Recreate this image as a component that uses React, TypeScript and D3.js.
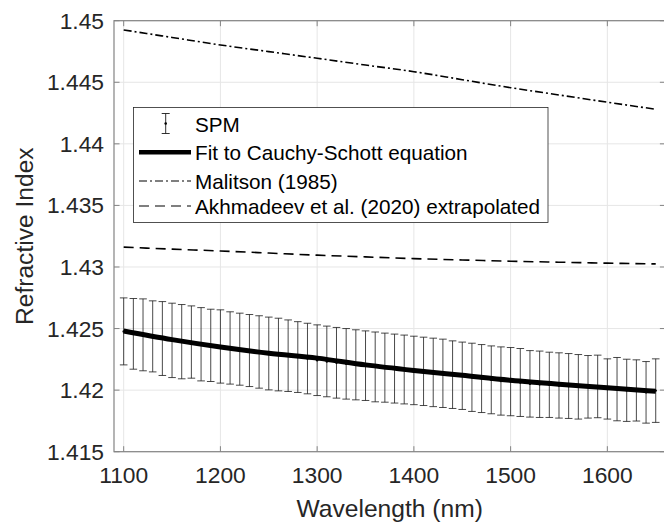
import React from "react";
import * as d3 from "d3";

// ---------- data ----------
const xTicks = [1100, 1200, 1300, 1400, 1500, 1600];
const yTicks = [1.415, 1.42, 1.425, 1.43, 1.435, 1.44, 1.445, 1.45];
const yTickLabels = ["1.415", "1.42", "1.425", "1.43", "1.435", "1.44", "1.445", "1.45"];

// SPM wavelengths (every 10 nm) with upper/lower error-bar ends
const spmWavelength = [
  1100, 1110, 1120, 1130, 1140, 1150, 1160, 1170, 1180, 1190,
  1200, 1210, 1220, 1230, 1240, 1250, 1260, 1270, 1280, 1290,
  1300, 1310, 1320, 1330, 1340, 1350, 1360, 1370, 1380, 1390,
  1400, 1410, 1420, 1430, 1440, 1450, 1460, 1470, 1480, 1490,
  1500, 1510, 1520, 1530, 1540, 1550, 1560, 1570, 1580, 1590,
  1600, 1610, 1620, 1630, 1640, 1650,
];
const spmUpper = [
  1.42749, 1.42744, 1.42741, 1.42725, 1.42719, 1.42706, 1.42695, 1.42684, 1.4267, 1.42657,
  1.42652, 1.42636, 1.42625, 1.42614, 1.42604, 1.42593, 1.42584, 1.4257, 1.42556, 1.42543,
  1.4253, 1.4252, 1.42509, 1.425, 1.4249, 1.42481, 1.42472, 1.42463, 1.42455, 1.42447,
  1.42438, 1.4243, 1.42422, 1.42414, 1.424, 1.4239, 1.42381, 1.4237, 1.42359, 1.42351,
  1.42346, 1.42338, 1.42321, 1.42317, 1.42308, 1.42303, 1.42297, 1.42289, 1.42281, 1.42284,
  1.42254, 1.42265, 1.42251, 1.42246, 1.42232, 1.42254,
];
const spmLower = [
  1.42205, 1.4217, 1.42157, 1.42148, 1.42119, 1.42102, 1.42092, 1.42097, 1.42075, 1.4207,
  1.42057, 1.42049, 1.4204, 1.42029, 1.42016, 1.42002, 1.41994, 1.41989, 1.41981, 1.4197,
  1.41956, 1.41946, 1.41935, 1.41927, 1.41921, 1.41916, 1.41905, 1.41902, 1.41895, 1.41888,
  1.41882, 1.41875, 1.41866, 1.41859, 1.41851, 1.41843, 1.41827, 1.41818, 1.41808, 1.41797,
  1.41792, 1.41786, 1.41781, 1.41778, 1.41778, 1.41773, 1.4177, 1.41765, 1.41773, 1.41776,
  1.41765, 1.41751, 1.41746, 1.41749, 1.41732, 1.41738,
];

// Curves sampled every 50 nm
const curveWavelength = [1100, 1150, 1200, 1250, 1300, 1350, 1400, 1450, 1500, 1550, 1600, 1650];
const fitValues = [1.4248, 1.4241, 1.4235, 1.423, 1.4226, 1.42205, 1.4216, 1.4212, 1.4208, 1.42048, 1.4202, 1.4199];
const malitsonValues = [1.44925, 1.44864, 1.44803, 1.44749, 1.44695, 1.4464, 1.44586, 1.44521, 1.44456, 1.44397, 1.44338, 1.44281];
const akhmadeevValues = [1.43161, 1.43145, 1.4313, 1.43113, 1.43096, 1.43082, 1.43068, 1.43057, 1.43047, 1.43039, 1.43031, 1.43025];

const legendLabels = [
  "SPM",
  "Fit to Cauchy-Schott equation",
  "Malitson (1985)",
  "Akhmadeev et al. (2020) extrapolated",
];

// ---------- layout ----------
const W = 664;
const H = 523;
const left = 114;
const right = 665.4;
const top = 20.7;
const bottom = 451.7;
const FONT = "'Liberation Sans', Arial, Helvetica, sans-serif";
const TEXT = "#262626";
const AXIS = "#848484";
const GRID = "#e6e6e6";

export default function App() {
  const x = d3.scaleLinear().domain([1090, 1660]).range([left, right]);
  const y = d3.scaleLinear().domain([1.415, 1.45]).range([bottom, top]);

  const line = d3
    .line<[number, number]>()
    .x((d) => x(d[0]))
    .y((d) => y(d[1]))
    .curve(d3.curveMonotoneX);

  const pairs = (vals: number[]) => curveWavelength.map((w, i) => [w, vals[i]] as [number, number]);

  const cap = 3.8;
  const tickLen = 5.5;
  const legendY = [124, 152.3, 181, 206];

  return (
    <svg
      width={W}
      height={H}
      style={{ position: "absolute", left: 0, top: 0, background: "#fff" }}
      fontFamily={FONT}
    >
      <rect x={0} y={0} width={W} height={H} fill="#fff" />
      {/* grid */}
      <g stroke={GRID} strokeWidth={1}>
        {xTicks.map((t) => (
          <line key={"gx" + t} x1={x(t)} x2={x(t)} y1={top} y2={bottom} />
        ))}
        {yTicks.map((t) => (
          <line key={"gy" + t} x1={left} x2={right} y1={y(t)} y2={y(t)} />
        ))}
      </g>

      {/* Malitson */}
      <path
        d={line(pairs(malitsonValues)) || ""}
        fill="none"
        stroke="#000"
        strokeWidth={1.6}
        strokeDasharray="8 3 2 3"
      />
      {/* Akhmadeev */}
      <path
        d={line(pairs(akhmadeevValues)) || ""}
        fill="none"
        stroke="#000"
        strokeWidth={1.6}
        strokeDasharray="10 6"
      />

      {/* SPM error bars */}
      <g stroke="#1a1a1a" strokeWidth={0.8}>
        {spmWavelength.map((w, i) => {
          const cx = x(w);
          const yu = y(spmUpper[i]);
          const yl = y(spmLower[i]);
          return (
            <g key={"eb" + w}>
              <line x1={cx} x2={cx} y1={yu} y2={yl} />
              <line x1={cx - cap} x2={cx + cap} y1={yu} y2={yu} />
              <line x1={cx - cap} x2={cx + cap} y1={yl} y2={yl} />
            </g>
          );
        })}
      </g>
      <g fill="#000">
        {spmWavelength.map((w, i) => (
          <circle key={"pt" + w} cx={x(w)} cy={y((spmUpper[i] + spmLower[i]) / 2)} r={1.2} />
        ))}
      </g>

      {/* Fit */}
      <path d={line(pairs(fitValues)) || ""} fill="none" stroke="#000" strokeWidth={5} />

      {/* axes box */}
      <rect x={left} y={top} width={right - left} height={bottom - top} fill="none" stroke={AXIS} strokeWidth={1.2} />
      <g stroke={AXIS} strokeWidth={1}>
        {xTicks.map((t) => (
          <g key={"tx" + t}>
            <line x1={x(t)} x2={x(t)} y1={bottom} y2={bottom - tickLen} />
            <line x1={x(t)} x2={x(t)} y1={top} y2={top + tickLen} />
          </g>
        ))}
        {yTicks.map((t) => (
          <g key={"ty" + t}>
            <line x1={left} x2={left + tickLen} y1={y(t)} y2={y(t)} />
            <line x1={right} x2={right - tickLen} y1={y(t)} y2={y(t)} />
          </g>
        ))}
      </g>

      {/* tick labels */}
      <g fill={TEXT} fontSize={22.8}>
        {xTicks.map((t) => (
          <text key={"lx" + t} x={x(t)} y={bottom + 31.5} textAnchor="middle">
            {t}
          </text>
        ))}
        {yTicks.map((t, i) => (
          <text key={"ly" + t} x={left - 10} y={y(t) + 8} textAnchor="end">
            {yTickLabels[i]}
          </text>
        ))}
      </g>

      {/* axis titles */}
      <text x={(left + right) / 2} y={516.5} textAnchor="middle" fontSize={24.6} fill={TEXT}>
        Wavelength (nm)
      </text>
      <text
        transform={`translate(33, ${(top + bottom) / 2}) rotate(-90)`}
        textAnchor="middle"
        fontSize={24.6}
        fill={TEXT}
      >
        Refractive Index
      </text>

      {/* legend */}
      <g>
        <rect x={133.5} y={107.5} width={414.5} height={115} fill="#fff" stroke="#262626" strokeWidth={0.8} />
        {/* SPM sample */}
        <g stroke="#1a1a1a" strokeWidth={0.9}>
          <line x1={165.7} x2={165.7} y1={113.5} y2={133.5} />
          <line x1={161.7} x2={169.7} y1={113.5} y2={113.5} />
          <line x1={161.7} x2={169.7} y1={133.5} y2={133.5} />
        </g>
        <circle cx={165.7} cy={123.5} r={1.3} fill="#000" />
        <line x1={139} x2={191} y1={152.3} y2={152.3} stroke="#000" strokeWidth={4.5} />
        <line x1={139} x2={191} y1={181} y2={181} stroke="#000" strokeWidth={1.2} strokeDasharray="8 3 2 3" />
        <line x1={139} x2={191} y1={206} y2={206} stroke="#000" strokeWidth={1.2} strokeDasharray="10 6" />
        <g fill="#000" fontSize={20.7}>
          {legendLabels.map((lab, i) => (
            <text key={lab} x={195} y={legendY[i] + 7.5}>
              {lab}
            </text>
          ))}
        </g>
      </g>
    </svg>
  );
}
